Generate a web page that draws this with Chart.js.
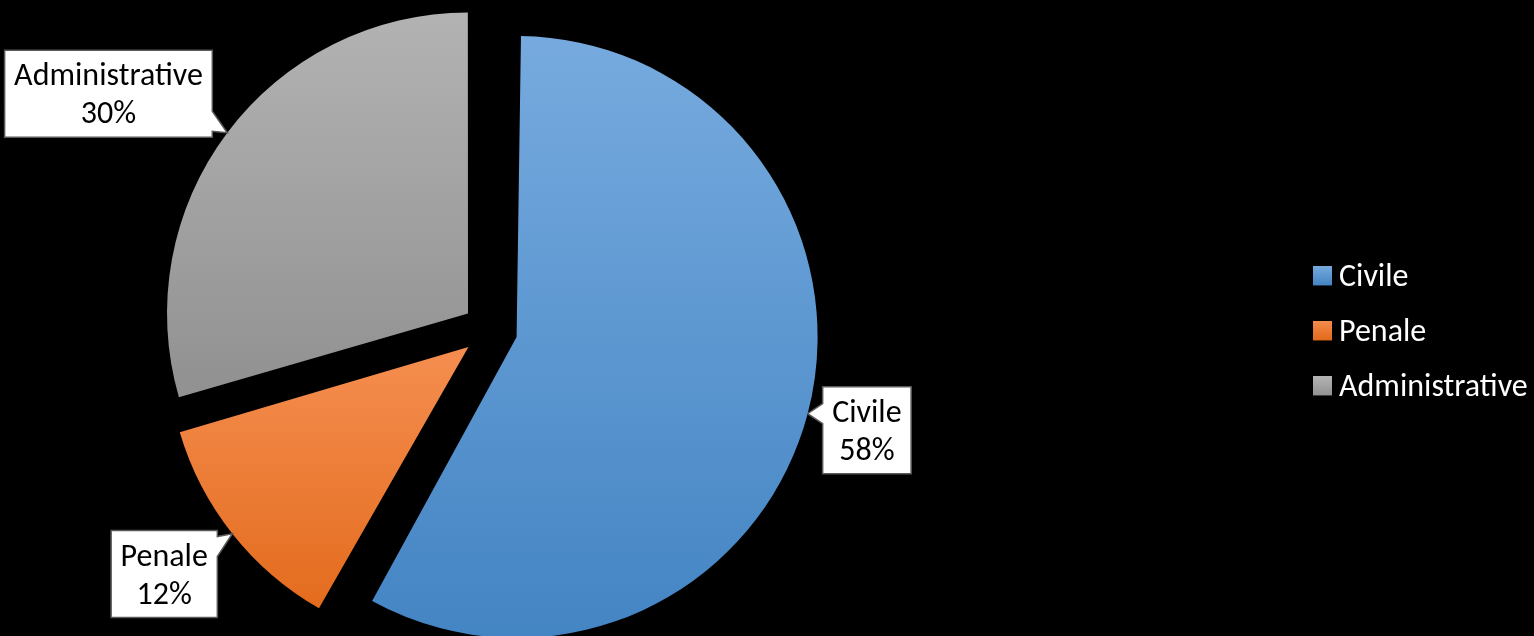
<!DOCTYPE html>
<html lang="it">
<head>
<meta charset="UTF-8">
<title>Ripartizione</title>
<script src="https://cdn.jsdelivr.net/npm/chart.js"></script>
<style>
  html, body { margin: 0; padding: 0; background: #000; overflow: hidden; }
  /* il canvas sborda a sinistra: torta a sinistra, legenda attaccata al bordo destro */
  .grafico-box { position: absolute; left: -310px; top: 0; width: 1844px; height: 636px; }
</style>
</head>
<body>
<div class="grafico-box"><canvas id="grafico"></canvas></div>
<script>
const categorie = ['Civile', 'Penale', 'Administrative'];
const valori = [58.2, 12.3, 29.5];
const coloriChiari = ['#76aade', '#f48c4d', '#b4b4b4'];
const coloriScuri = ['#4384c3', '#e2691a', '#929292'];

const RAGGIO = 301;
const STACCO = 110;   // Chart.js sposta la fetta di offset/4
const FONT = 'Carlito, Calibri, Lato, sans-serif';
const DIM = 32;

function gradienteFetta(ctx) {
  const chart = ctx.chart;
  const i = ctx.dataIndex;
  const area = chart.chartArea;
  if (!area || i === undefined) return coloriChiari[i];
  const tot = valori.reduce((a, b) => a + b, 0);
  let inizio = -Math.PI / 2;
  for (let j = 0; j < i; j++) inizio += valori[j] / tot * 2 * Math.PI;
  const fine = inizio + valori[i] / tot * 2 * Math.PI;
  const meta = (inizio + fine) / 2;
  const cy = (area.top + area.bottom) / 2 + Math.sin(meta) * STACCO / 4;
  const ys = [cy, cy + RAGGIO * Math.sin(inizio), cy + RAGGIO * Math.sin(fine)];
  [Math.PI / 2, 3 * Math.PI / 2].forEach(a => {
    if (a > inizio && a < fine) ys.push(cy + RAGGIO * Math.sin(a));
  });
  const g = chart.ctx.createLinearGradient(0, Math.min(...ys), 0, Math.max(...ys));
  g.addColorStop(0, coloriChiari[i]);
  g.addColorStop(1, coloriScuri[i]);
  return g;
}

// quadratino della legenda (sfumato), con margine trasparente a sinistra e sotto
function quadratino(i) {
  const cv = document.createElement('canvas');
  cv.width = 28;
  cv.height = 24;
  const c = cv.getContext('2d');
  const g = c.createLinearGradient(0, 0, 0, 19);
  g.addColorStop(0, coloriChiari[i]);
  g.addColorStop(1, coloriScuri[i]);
  c.fillStyle = g;
  c.fillRect(9, 0, 19, 19);
  return cv;
}

// l'offset di Chart.js allarga anche il raggio: lo riporto uguale per tutte le fette
const compensaRaggio = {
  id: 'compensaRaggio',
  beforeDatasetsDraw(chart) {
    chart.getDatasetMeta(0).data.forEach(arc => {
      const fix = 1 - Math.sin(Math.min(Math.PI, arc.circumference));
      arc.outerRadius = RAGGIO - STACCO / 4 * fix;
    });
  }
};

// etichette a fumetto
const etichette = {
  id: 'etichette',
  afterDatasetsDraw(chart) {
    const c = chart.ctx;
    const tot = valori.reduce((a, b) => a + b, 0);
    c.save();
    c.font = `${DIM}px ${FONT}`;
    chart.getDatasetMeta(0).data.forEach((arc, i) => {
      const meta = (arc.startAngle + arc.endAngle) / 2;
      const cx = arc.x + Math.cos(meta) * STACCO / 4;
      const cy = arc.y + Math.sin(meta) * STACCO / 4;
      const punta = { x: cx + Math.cos(meta) * RAGGIO, y: cy + Math.sin(meta) * RAGGIO };
      const righe = [categorie[i], Math.round(valori[i] / tot * 100) + '%'];
      const w = Math.max(...righe.map(t => c.measureText(t).width)) + 19;
      const h = 87;
      const destra = Math.cos(meta) >= 0;
      const x0 = destra ? punta.x + 15 : punta.x - 15 - w;
      let y0 = punta.y + 65 * Math.sin(meta) - h / 2;
      y0 = Math.max(2, Math.min(chart.height - h - 2, y0));
      const yc = Math.max(y0 + 16, Math.min(y0 + h - 16, punta.y));

      c.beginPath();
      if (destra) {
        c.moveTo(x0, y0); c.lineTo(x0 + w, y0); c.lineTo(x0 + w, y0 + h); c.lineTo(x0, y0 + h);
        c.lineTo(x0, yc + 10); c.lineTo(punta.x, punta.y); c.lineTo(x0, yc - 10);
      } else {
        c.moveTo(x0, y0); c.lineTo(x0 + w, y0); c.lineTo(x0 + w, yc - 10); c.lineTo(punta.x, punta.y);
        c.lineTo(x0 + w, yc + 10); c.lineTo(x0 + w, y0 + h); c.lineTo(x0, y0 + h);
      }
      c.closePath();
      c.fillStyle = '#fff';
      c.fill();
      c.strokeStyle = '#595959';
      c.lineWidth = 1.5;
      c.stroke();

      c.fillStyle = '#000';
      c.textAlign = 'center';
      c.textBaseline = 'alphabetic';
      c.fillText(righe[0], x0 + w / 2, y0 + 35);
      c.fillText(righe[1], x0 + w / 2, y0 + 73);
    });
    c.restore();
  }
};

new Chart(document.getElementById('grafico'), {
  type: 'pie',
  data: {
    labels: categorie,
    datasets: [{
      data: valori,
      backgroundColor: gradienteFetta,
      borderWidth: 0,
      offset: STACCO
    }]
  },
  options: {
    responsive: true,
    maintainAspectRatio: false,
    animation: false,
    events: [],
    radius: RAGGIO,
    layout: { padding: { top: 24, right: 0, bottom: 0, left: 0 } },
    plugins: {
      tooltip: { enabled: false },
      legend: {
        position: 'right',
        maxWidth: 244,
        // titolo vuoto: serve solo ad abbassare un poco le voci
        title: { display: true, text: '', font: { size: 4 }, padding: 1 },
        labels: {
          color: '#fff',
          usePointStyle: true,
          boxWidth: 10,
          boxHeight: 19,
          padding: 23,
          font: { family: FONT, size: DIM },
          generateLabels(chart) {
            return chart.data.labels.map((t, i) => ({
              text: t,
              pointStyle: quadratino(i),
              fillStyle: coloriChiari[i],
              strokeStyle: coloriChiari[i],
              lineWidth: 0,
              fontColor: '#fff',
              index: i
            }));
          }
        }
      }
    }
  },
  plugins: [compensaRaggio, etichette]
});
</script>
</body>
</html>
